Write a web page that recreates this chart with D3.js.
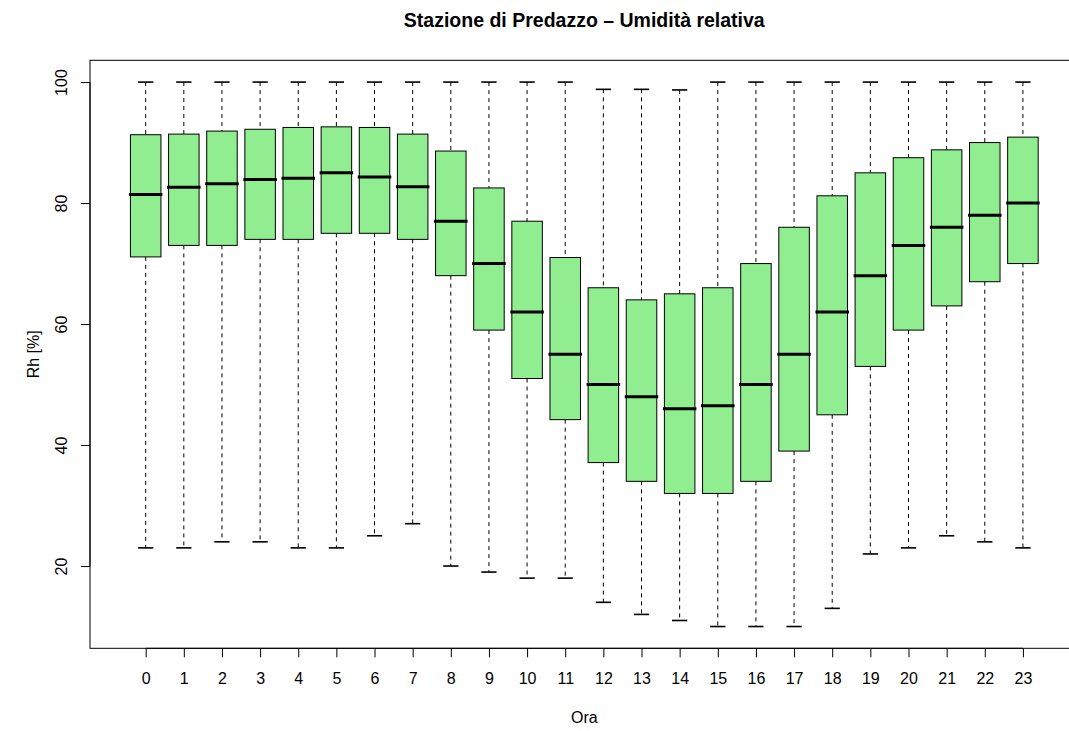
<!DOCTYPE html>
<html><head><meta charset="utf-8">
<script src="https://cdn.jsdelivr.net/npm/d3@7"></script>
<style>body{margin:0;background:#fff}svg{display:block}text{font-family:"Liberation Sans",Arial,sans-serif}</style>
</head><body>
<script>
const hours = d3.range(0,24).map(String);
const whiskerLow  = [23,23,24,24,23,23,25,27,20,19,18,18,14,12,11,10,10,10,13,22,23,25,24,23];
const q1          = [71.1,73,73,74,74,75,75,74,68,59,51,44.2,37.1,34,32,32,34,39,45,53,59,63,67,70];
const medians     = [81.4,82.6,83.2,83.9,84.1,85,84.3,82.7,77,70,62,55,50,48,46,46.5,50,55,62,68,73,76,78,80];
const q3          = [91.3,91.4,91.9,92.2,92.5,92.6,92.5,91.4,88.6,82.5,77,71,66,64,65,66,70,76,81.2,85,87.5,88.8,90,90.9];
const whiskerHigh = [100,100,100,100,100,100,100,100,100,100,100,100,98.8,98.8,98.7,100,100,100,100,100,100,100,100,100];
const yTicks = [20,40,60,80,100];

const W=1069,H=731;
const svg=d3.select("body").append("svg").attr("width",W).attr("height",H);
const x=d3.scaleLinear().domain([-0.46,25.46]).range([90,1078.6]);
const y=d3.scaleLinear().domain([6.4,103.6]).range([648.3,60.3]);
const bw=0.8, cw=0.4;

// plot frame
svg.append("rect").attr("x",x(-0.46)).attr("y",y(103.6)).attr("width",x(25.46)-x(-0.46)).attr("height",y(6.4)-y(103.6))
  .attr("fill","none").attr("stroke","#000").attr("stroke-width",1);

const data=hours.map((h,i)=>({h,pos:i+1,lo:whiskerLow[i],q1:q1[i],med:medians[i],q3:q3[i],hi:whiskerHigh[i]}));
const g=svg.append("g").selectAll("g").data(data).join("g");
// whiskers
g.append("line").attr("x1",d=>x(d.pos)).attr("x2",d=>x(d.pos)).attr("y1",d=>y(d.hi)).attr("y2",d=>y(d.q3))
  .attr("stroke","#000").attr("stroke-dasharray","4,4");
g.append("line").attr("x1",d=>x(d.pos)).attr("x2",d=>x(d.pos)).attr("y1",d=>y(d.q1)).attr("y2",d=>y(d.lo))
  .attr("stroke","#000").attr("stroke-dasharray","4,4");
// caps
g.append("line").attr("x1",d=>x(d.pos-cw/2)).attr("x2",d=>x(d.pos+cw/2)).attr("y1",d=>y(d.hi)).attr("y2",d=>y(d.hi))
  .attr("stroke","#000").attr("stroke-width",1.6);
g.append("line").attr("x1",d=>x(d.pos-cw/2)).attr("x2",d=>x(d.pos+cw/2)).attr("y1",d=>y(d.lo)).attr("y2",d=>y(d.lo))
  .attr("stroke","#000").attr("stroke-width",1.6);
// boxes
g.append("rect").attr("x",d=>x(d.pos-bw/2)).attr("width",x(bw)-x(0)).attr("y",d=>y(d.q3)).attr("height",d=>y(d.q1)-y(d.q3))
  .attr("fill","#90EE90").attr("stroke","#000").attr("stroke-width",1);
// medians
g.append("line").attr("x1",d=>x(d.pos-bw/2)).attr("x2",d=>x(d.pos+bw/2)).attr("y1",d=>y(d.med)).attr("y2",d=>y(d.med))
  .attr("stroke","#000").attr("stroke-width",3).attr("stroke-linecap","square");

// y axis
const ya=svg.append("g").attr("transform","translate(90,0)")
  .call(d3.axisLeft(y).tickValues(yTicks).tickSize(9).tickSizeOuter(0).tickPadding(0));
ya.select(".domain").attr("d",`M0,${y(20)}V${y(100)}`);
ya.selectAll(".tick text").attr("transform","rotate(-90)").attr("x",0).attr("y",-29)
  .attr("dy","0.35em").attr("text-anchor","middle").attr("font-size",16).attr("fill","#000");

// x axis
const xa=svg.append("g").attr("transform","translate(0,648.3)")
  .call(d3.axisBottom(x).tickValues(d3.range(1,25)).tickFormat(d=>hours[d-1]).tickSize(9).tickSizeOuter(0));
xa.select(".domain").attr("d",`M${x(1)},0H${x(24)}`);
xa.selectAll(".tick text").attr("y",24).attr("dy","0.71em").attr("font-size",16).attr("fill","#000");
xa.selectAll(".tick text").attr("y",0).attr("dy",null).attr("transform",null).attr("y",36);

// titles
svg.append("text").attr("x",(x(-0.46)+x(25.46))/2).attr("y",27).attr("text-anchor","middle")
  .attr("font-weight","bold").attr("font-size",19.5).text("Stazione di Predazzo – Umidità relativa");
svg.append("text").attr("x",(x(-0.46)+x(25.46))/2).attr("y",723).attr("text-anchor","middle")
  .attr("font-size",16).text("Ora");
svg.append("text").attr("transform",`translate(39,${(y(6.4)+y(103.6))/2}) rotate(-90)`).attr("text-anchor","middle")
  .attr("font-size",16).text("Rh [%]");
</script>
</body></html>
